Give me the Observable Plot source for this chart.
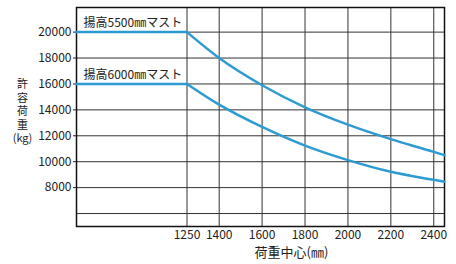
<!DOCTYPE html>
<html>
<head>
<meta charset="utf-8">
<script src="https://cdn.jsdelivr.net/npm/d3@7"></script>
<script src="https://cdn.jsdelivr.net/npm/@observablehq/plot@0.6"></script>
<style>
  html, body { margin: 0; padding: 0; background: #fff; }
</style>
</head>
<body>
<div id="chart"></div>
<script>
// Data
const loadCenter = [735, 1250, 1400, 1600, 1800, 2000, 2200, 2400, 2450]; // mm
const mast5500 = [20000, 20000, 18000, 15900, 14200, 12860, 11740, 10760, 10500]; // kg
const mast6000 = [16000, 16000, 14400, 12680, 11240, 10120, 9220, 8600, 8450]; // kg
const seriesNames = ["揚高5500㎜マスト", "揚高6000㎜マスト"];
const xTicks = [1250, 1400, 1600, 1800, 2000, 2200, 2400];
const yTicks = [8000, 10000, 12000, 14000, 16000, 18000, 20000];
const yGrid = [6000, 8000, 10000, 12000, 14000, 16000, 18000, 20000];
const yTitle = "許\n容\n荷\n重\n(kg)";
const xTitle = "荷重中心(㎜)";

const series = [mast5500, mast6000];
const rows = [];
series.forEach((vals, s) => {
  vals.forEach((v, i) => {
    rows.push({series: seriesNames[s], x: loadCenter[i], y: v, flat: i <= 1, curve: i >= 1});
  });
});
const labels = series.map((vals, s) => ({series: seriesNames[s], y: vals[0]}));

const blue = "#2d9bd2";
const font = "'Noto Sans CJK JP', 'Noto Sans', sans-serif";

const chart = Plot.plot({
  width: 456,
  height: 264,
  marginLeft: 76,
  marginRight: 12,
  marginTop: 7,
  marginBottom: 38,
  x: {domain: [735, 2450]},
  y: {domain: [5000, 21900]},
  style: {fontFamily: font, fontSize: "12px", color: "#222", background: "#fff"},
  marks: [
    Plot.gridX(xTicks, {stroke: "#333", strokeOpacity: 1, strokeWidth: 1}),
    Plot.gridY(yGrid, {stroke: "#333", strokeOpacity: 1, strokeWidth: 1}),
    Plot.frame({stroke: "#111", strokeWidth: 1.5}),
    Plot.axisY(yTicks, {tickSize: 3, tickPadding: 2, tickFormat: d => String(d), label: null, fontSize: 12}),
    Plot.axisX(xTicks, {tickSize: 0, tickPadding: 4, tickFormat: d => String(d), label: null, fontSize: 12}),
    Plot.line(rows.filter(d => d.flat), {x: "x", y: "y", z: "series", stroke: blue, strokeWidth: 2.5}),
    Plot.line(rows.filter(d => d.curve), {x: "x", y: "y", z: "series", stroke: blue, strokeWidth: 2.5, curve: "monotone-x"}),
    Plot.text(labels, {frameAnchor: "left", y: "y", text: "series", dx: 7, dy: -9, textAnchor: "start", lineAnchor: "middle", fontSize: 12, fill: "#222"}),
    Plot.text([yTitle], {text: d => d, frameAnchor: "left", dx: -54, dy: -6, textAnchor: "middle", lineAnchor: "middle", lineHeight: 1.23, fontSize: 11, fill: "#222"}),
    Plot.text([xTitle], {text: d => d, frameAnchor: "bottom", dx: 31, dy: 26, textAnchor: "middle", lineAnchor: "middle", fontSize: 13, fill: "#222"})
  ]
});
document.getElementById("chart").appendChild(chart);
</script>
</body>
</html>
